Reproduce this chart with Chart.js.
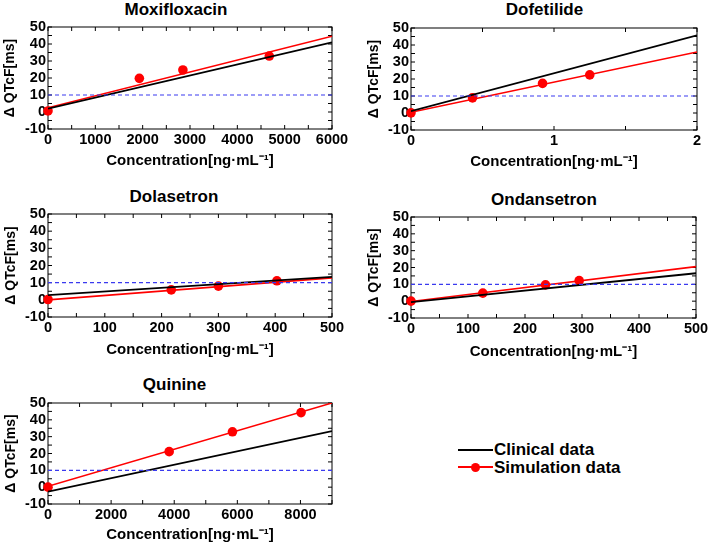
<!DOCTYPE html>
<html>
<head>
<meta charset="utf-8">
<script src="https://cdn.jsdelivr.net/npm/chart.js@4.4.0/dist/chart.umd.min.js"></script>
<style>
	body { margin: 0; width: 709px; height: 545px; overflow: hidden; background: #fff; position: relative;
		font-family: 'Liberation Sans', Arial, sans-serif; font-weight: bold; color: #000; }
	canvas { position: absolute; }
	.title { position: absolute; width: 200px; text-align: center; font-size: 17px; line-height: 20px; }
	.legend { position: absolute; left: 458px; top: 441px; font-size: 17px; line-height: 17.6px; }
	.legend .row { position: relative; padding-left: 36px; white-space: nowrap; }
	.legend .line { position: absolute; left: 0; top: 7.5px; width: 35px; height: 2px; }
	.legend .dot { position: absolute; left: 13px; top: 4px; width: 9px; height: 9px; border-radius: 50%; background: #f00; }
</style>
</head>
<body>
<div class="legend">
	<div class="row"><span class="line" style="background:#000"></span>Clinical data</div>
	<div class="row"><span class="line" style="background:#f00"></span><span class="dot"></span>Simulation data</div>
</div>
<script>
const drugs = ['Moxifloxacin', 'Dofetilide', 'Dolasetron', 'Ondansetron', 'Quinine'];
const xMax = [6000, 2, 500, 500, 9000];
const xStep = [1000, 1, 100, 100, 2000];
const yTicks = [-10, 0, 10, 20, 30, 40, 50];

// simulated points
const simConc = [
	[0, 1930, 2850, 4675],
	[0, 0.43, 0.92, 1.25],
	[0, 217, 300, 403],
	[0, 126, 236, 295],
	[0, 3840, 5845, 8020],
];
const simQtcf = [
	[0.6, 19.8, 24.7, 32.9],
	[0.1, 8.9, 17.4, 22.4],
	[0.2, 5.8, 8.0, 11.1],
	[0, 4.8, 9.7, 12.2],
	[0, 21.1, 32.9, 44.3],
];

// fitted lines: value at x = 0 and at x = xMax
const clinicalFit = [[2, 41], [1.1, 45.7], [2.7, 13.4], [-0.6, 16.6], [-2.7, 33.3]];
const simulationFit = [[2.5, 44.6], [0.4, 35.9], [0, 12.8], [-0.2, 20.5], [0.5, 50]];
const threshold = 10;

// where each panel's plot area sits on the page
const panels = [
	{cl: 0, L: 48, R: 332, T: 27, B: 129, xt: 161, titleX: 176, titleY: 0},
	{cl: 364, L: 411, R: 697, T: 28, B: 130, xt: 161.5, titleX: 544.5, titleY: 0},
	{cl: 1, L: 48, R: 332, T: 214, B: 317, xt: 350, titleX: 174, titleY: 187.3},
	{cl: 364, L: 411, R: 696, T: 217, B: 318, xt: 351.7, titleX: 544, titleY: 189.6},
	{cl: 1, L: 48, R: 332, T: 403, B: 504, xt: 535, titleX: 174.5, titleY: 375.3},
];

const FONT = "'Liberation Sans', Arial, sans-serif";

const frame = {
	id: 'frame',
	beforeDatasetsDraw(chart){
		const {ctx, chartArea: a, scales: {x, y}} = chart;
		const minor = chart.options.plugins.frame.xMinor;
		ctx.save();
		ctx.strokeStyle = '#000';
		ctx.lineWidth = 1;
		ctx.beginPath();
		for(let v = x.min; v <= x.max + 1e-9; v += minor){
			const px = x.getPixelForValue(v);
			ctx.moveTo(px, a.bottom); ctx.lineTo(px, a.bottom - 4);
			ctx.moveTo(px, a.top); ctx.lineTo(px, a.top + 4);
		}
		for(let v = y.min; v <= y.max + 1e-9; v += 5){
			const py = y.getPixelForValue(v);
			ctx.moveTo(a.left, py); ctx.lineTo(a.left + 4, py);
			ctx.moveTo(a.right, py); ctx.lineTo(a.right - 4, py);
		}
		ctx.stroke();
		ctx.strokeRect(a.left, a.top, a.right - a.left, a.bottom - a.top);
		ctx.restore();
	}
};

function xTickValues(i){
	const out = [];
	for(let v = 0; v <= xMax[i] + 1e-9; v += xStep[i]){
		out.push({value: v});
	}
	return out;
}

drugs.forEach((name, i) => {
	const p = panels[i];
	const ct = p.T - 12;
	const ch = Math.round(p.xt + 9) - ct;
	const cw = p.R + 20 - p.cl;

	const title = document.createElement('div');
	title.className = 'title';
	title.style.left = (p.titleX - 100) + 'px';
	title.style.top = p.titleY + 'px';
	title.textContent = name;
	document.body.appendChild(title);

	const canvas = document.createElement('canvas');
	canvas.width = cw;
	canvas.height = ch;
	canvas.style.left = p.cl + 'px';
	canvas.style.top = ct + 'px';
	document.body.appendChild(canvas);

	const pts = simConc[i].map((c, k) => ({x: c, y: simQtcf[i][k]}));
	const tickFont = {family: FONT, size: 14.5, weight: 'bold'};

	new Chart(canvas.getContext('2d'), {
		type: 'scatter',
		data: {
			datasets: [
				{
					data: [{x: 0, y: threshold}, {x: xMax[i], y: threshold}],
					showLine: true, borderColor: '#3a3aef', borderWidth: 1.2, borderDash: [4, 3], pointRadius: 0,
				},
				{
					label: 'Clinical data',
					data: [{x: 0, y: clinicalFit[i][0]}, {x: xMax[i], y: clinicalFit[i][1]}],
					showLine: true, borderColor: '#000', borderWidth: 1.8, pointRadius: 0,
				},
				{
					data: [{x: 0, y: simulationFit[i][0]}, {x: xMax[i], y: simulationFit[i][1]}],
					showLine: true, borderColor: '#f00', borderWidth: 1.6, pointRadius: 0,
				},
				{
					label: 'Simulation data',
					data: pts,
					showLine: false, pointRadius: 4.8, pointBackgroundColor: '#f00', pointBorderWidth: 0, clip: false,
				},
			]
		},
		options: {
			responsive: false,
			animation: false,
			events: [],
			layout: {padding: {top: 12, right: 20, left: 0, bottom: 0}},
			plugins: {
				legend: {display: false},
				tooltip: {enabled: false},
				frame: {xMinor: xStep[i] / 2},
			},
			scales: {
				x: {
					type: 'linear', min: 0, max: xMax[i],
					grid: {display: false, drawTicks: false},
					border: {display: false},
					afterBuildTicks: (s) => { s.ticks = xTickValues(i); },
					ticks: {padding: 2, color: '#000', font: tickFont, autoSkip: false, maxRotation: 0, callback: (v) => String(v)},
					title: {display: true, text: 'Concentration[ng·mL⁻¹]', color: '#000', padding: 0, font: {family: FONT, size: 15, weight: 'bold'}},
					afterFit: (s) => { s.height = ct + ch - p.B; },
				},
				y: {
					type: 'linear', min: yTicks[0], max: yTicks[yTicks.length - 1],
					grid: {display: false, drawTicks: false},
					border: {display: false},
					afterBuildTicks: (s) => { s.ticks = yTicks.map((v) => ({value: v})); },
					ticks: {padding: 2, color: '#000', font: tickFont, autoSkip: false, callback: (v) => String(v)},
					title: {display: true, text: 'Δ QTcF[ms]', color: '#000', padding: {top: 2, bottom: 0}, font: {family: FONT, size: 14, weight: 'bold'}},
					afterFit: (s) => { s.width = p.L - p.cl; },
				}
			}
		},
		plugins: [frame]
	});
});
</script>
</body>
</html>
